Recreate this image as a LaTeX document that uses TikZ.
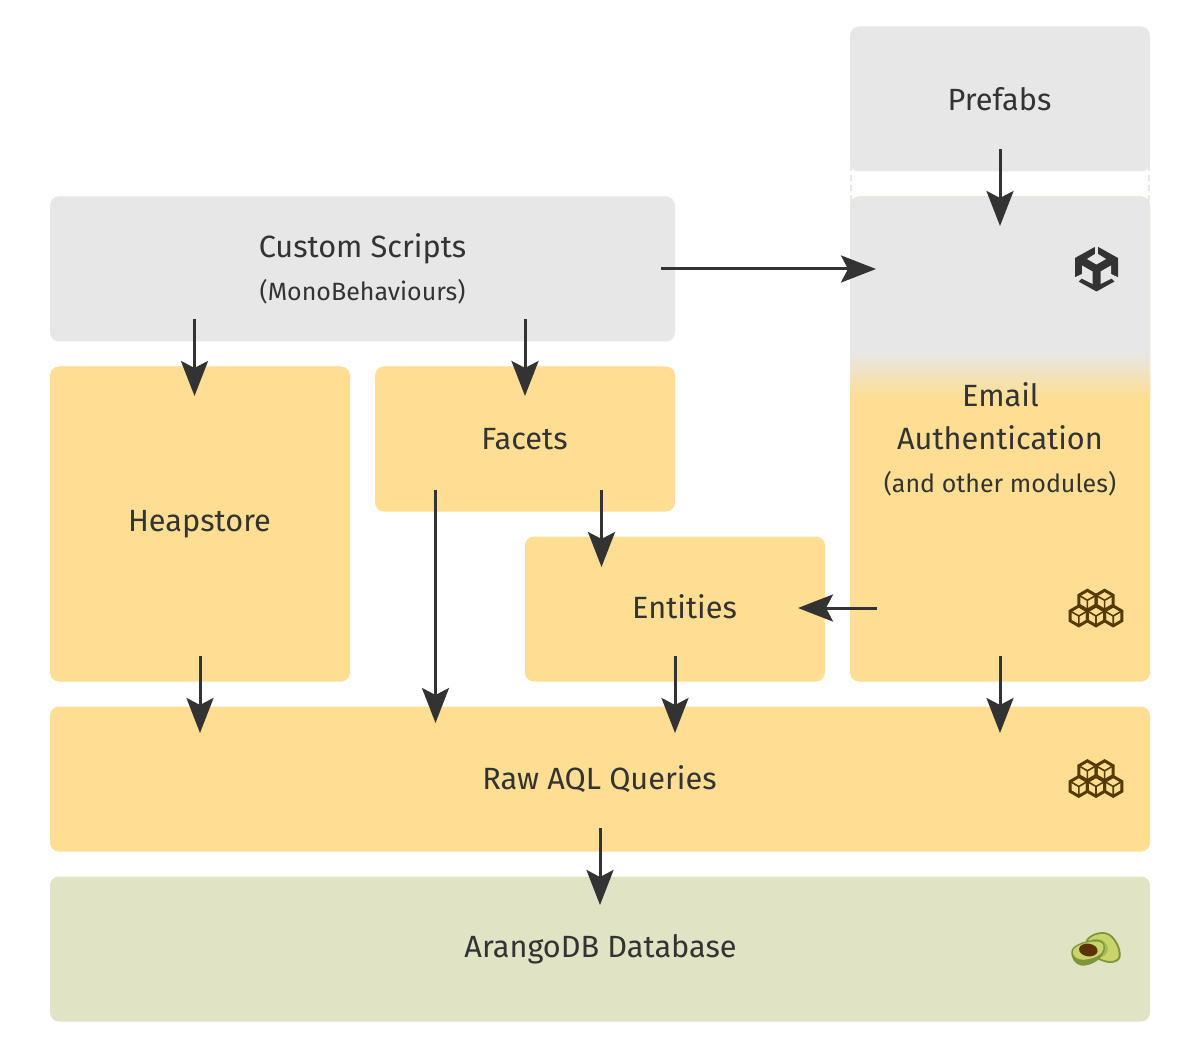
\documentclass[tikz,border=0pt]{standalone}
\usepackage{fontspec}
\setmainfont{Fira Sans}
\usetikzlibrary{arrows.meta}
\definecolor{boxgrey}{HTML}{E7E7E7}
\definecolor{boxyellow}{HTML}{FDDE92}
\definecolor{boxgreen}{HTML}{E0E3C4}
\definecolor{ink}{HTML}{333333}
\definecolor{cubeink}{HTML}{553B03}
\definecolor{avoskin}{HTML}{7C963B}
\definecolor{avoflesh}{HTML}{C9D56A}
\definecolor{avomid}{HTML}{A4BA53}
\definecolor{avopit}{HTML}{5C3208}
\tikzset{
  panel/.style={rounded corners=9pt,inner sep=0pt,outer sep=0pt,anchor=north west},
  greypanel/.style={panel,fill=boxgrey},
  yellowpanel/.style={panel,fill=boxyellow},
  greenpanel/.style={panel,fill=boxgreen},
  big/.style={anchor=base,text=ink,inner sep=0pt,font=\fontsize{30.7}{36}\selectfont},
  small/.style={anchor=base,text=ink,inner sep=0pt,font=\fontsize{25}{32}\selectfont},
  flow/.style={draw=ink,line width=3pt,-{Stealth[length=35pt,width=27pt,inset=7pt]}},
}
\newcommand{\onecube}[2]{%
  \draw[cubeink,line width=3pt,line join=miter]
    (#1,#2-9.5) -- ++(8.6,5) -- ++(0,9.8) -- ++(-8.6,5) -- ++(-8.6,-5) -- ++(0,-9.8) -- cycle;
  \draw[cubeink,line width=1.6pt] (#1-8.6,#2-4.5) -- (#1,#2+0.5) -- (#1+8.6,#2-4.5) (#1,#2+0.5) -- (#1,#2+9);
}
\newcommand{\cubesicon}[2]{%
  \onecube{#1-8.6}{#2-8.2}\onecube{#1+8.6}{#2-8.2}%
  \onecube{#1-17.2}{#2+7.5}\onecube{#1}{#2+7.5}\onecube{#1+17.2}{#2+7.5}%
}
\begin{document}
\begin{tikzpicture}[x=1pt,y=-1pt]
\useasboundingbox (0,0) rectangle (1200,1048);
\fill[white] (0,0) rectangle (1200,1048);

% dashed link between Prefabs and the module column
\draw[boxgrey,line width=2pt,dash pattern=on 6pt off 4pt] (851,165) -- (851,202);
\draw[boxgrey,line width=2pt,dash pattern=on 6pt off 4pt] (1149,165) -- (1149,202);

% panels
\node[greypanel,minimum width=300pt,minimum height=145pt] (prefabs) at (850,26.5) {};
\node[greypanel,minimum width=625pt,minimum height=145pt] (scripts) at (50,196.5) {};
\node[yellowpanel,minimum width=300pt,minimum height=315pt] (heap) at (50,366.5) {};
\node[yellowpanel,minimum width=300pt,minimum height=145pt] (facets) at (375,366.5) {};
\node[yellowpanel,minimum width=300pt,minimum height=145pt] (entities) at (525,536.5) {};
\node[yellowpanel,minimum width=1100pt,minimum height=145pt] (raw) at (50,706.5) {};
\node[greenpanel,minimum width=1100pt,minimum height=145pt] (db) at (50,876.5) {};
\node[yellowpanel,minimum width=300pt,minimum height=485pt,
  path picture={
    \fill[boxgrey] (-160,-250) rectangle (160,-86);
    \shade[top color=boxgrey,bottom color=boxyellow] (-160,-87) rectangle (160,-41);
  }] (auth) at (850,196.5) {};

% labels
\node[big] (tprefabs) at (999.5,111) {Prefabs};
\node[big] (tscripts) at (362.5,258) {Custom Scripts};
\node[small] (tmono) at (362.5,301) {(MonoBehaviours)};
\node[big] (theap) at (199.5,531) {Heapstore};
\node[big] (tfacets) at (524.5,449.5) {Facets};
\node[big] (tentities) at (684.5,618.5) {Entities};
\node[big] (temail) at (1000.5,407) {Email};
\node[big] (tauth) at (1000,450) {Authentication};
\node[small] (tmods) at (1000,493) {(and other modules)};
\node[big] (traw) at (599.5,789.5) {Raw AQL Queries};
\node[big] (tdb) at (600.5,957.5) {ArangoDB Database};

% connector ends
\coordinate (a1s) at (1000,149); \coordinate (a1e) at (1000,226);
\coordinate (a2s) at (661,269);  \coordinate (a2e) at (876,269);
\coordinate (a3s) at (194.5,319); \coordinate (a3e) at (194.5,396);
\coordinate (a4s) at (525,319);  \coordinate (a4e) at (525,396);
\coordinate (a5s) at (601.5,490); \coordinate (a5e) at (601.5,567);
\coordinate (a6s) at (877,608);  \coordinate (a6e) at (798,608);
\coordinate (a7s) at (200,656);  \coordinate (a7e) at (200,733);
\coordinate (a8s) at (435.5,490); \coordinate (a8e) at (435.5,723);
\coordinate (a9s) at (675,656);  \coordinate (a9e) at (675,733);
\coordinate (a10s) at (1000,656); \coordinate (a10e) at (1000,733);
\coordinate (a11s) at (600,828); \coordinate (a11e) at (600,905);
\foreach \n in {1,...,11} \draw[flow] (a\n s) -- (a\n e);

% Unity logo
\begin{scope}[shift={(1096.5,268.5)}]
  \fill[ink] (0,-22.5) -- (21.5,-10.5) -- (21.5,11) -- (0,23) -- (-21.5,11) -- (-21.5,-10.5) -- cycle;
  \fill[boxgrey] (0,-15.5) -- (9.5,-9.5) -- (0,-4) -- (-9.5,-9.5) -- cycle;
  \fill[boxgrey] (-1.5,-24) rectangle (1.5,-14);
  \fill[boxgrey] (-23,9.5) -- (-14.5,5.5) -- (-14.5,-3) -- (-4,3) -- (-4,15.5) -- (-15,10) -- (-19,14) -- (-23,14) -- cycle;
  \fill[boxgrey] (23,9.5) -- (14.5,5.5) -- (14.5,-3) -- (4,3) -- (4,15.5) -- (15,10) -- (19,14) -- (23,14) -- cycle;
\end{scope}

% cube icons
\cubesicon{1096}{608}
\cubesicon{1096}{778.5}

% avocado
\begin{scope}[shift={(1050,920)},scale=0.3333]
  \fill[avoskin] (108,60) .. controls (120,42) and (150,32) .. (170,38) .. controls (195,45) and (215,85) .. (212,110) .. controls (210,125) and (190,132) .. (170,128) .. controls (150,122) and (135,115) .. (125,110) -- cycle;
  \fill[avoflesh] (115,60) .. controls (125,47) and (150,38) .. (168,43) .. controls (190,50) and (208,85) .. (206,108) .. controls (204,120) and (188,126) .. (170,122) .. controls (155,118) and (140,112) .. (130,105) -- cycle;
  \fill[avomid] (125,58) .. controls (145,52) and (165,60) .. (172,78) .. controls (178,92) and (170,108) .. (150,112) -- cycle;
  \fill[avoskin] (65,90) .. controls (72,72) and (115,58) .. (145,60) .. controls (165,62) and (170,80) .. (160,100) .. controls (150,122) and (120,138) .. (95,137) .. controls (75,135) and (60,112) .. (65,90) -- cycle;
  \fill[avoflesh] (70,90) .. controls (78,75) and (118,62) .. (145,65) .. controls (162,68) and (165,82) .. (155,98) .. controls (145,112) and (110,122) .. (90,118) .. controls (75,115) and (65,102) .. (70,90) -- cycle;
  \fill[avopit,rotate around={-8:(115,90)}] (115,90) ellipse (28 and 19);
\end{scope}
\end{tikzpicture}
\end{document}
